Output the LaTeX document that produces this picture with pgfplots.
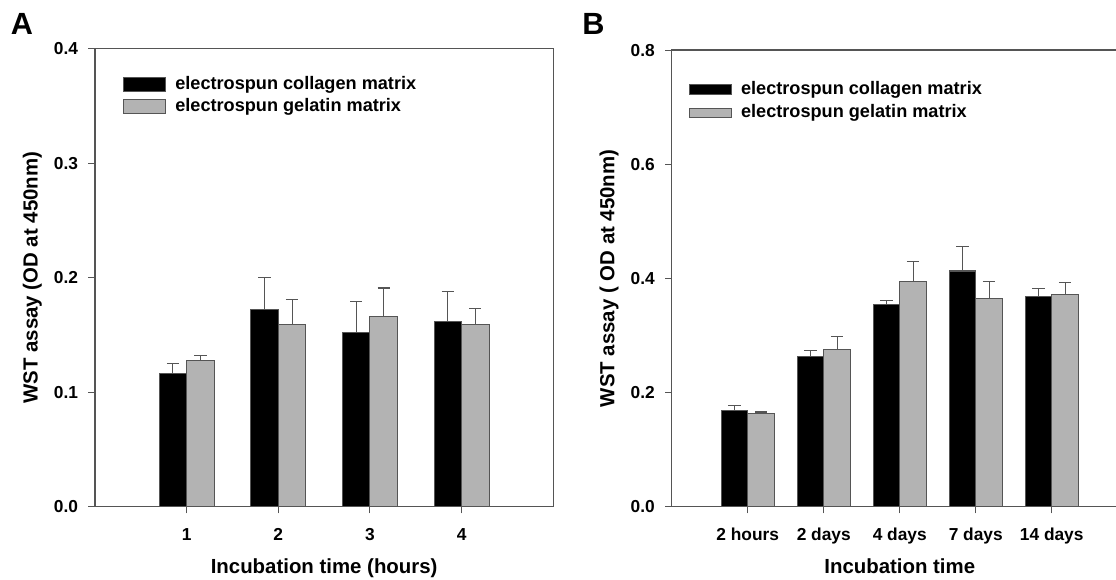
\documentclass[border=0pt]{standalone}
\usepackage{pgfplots}
\pgfplotsset{compat=1.18}
\usepackage{pgfplotstable}
\usepackage{fontspec}
\setmainfont{Liberation Sans}
\definecolor{axisgray}{HTML}{555555}
\definecolor{bargray}{HTML}{B3B3B3}

\pgfplotstableread{
x colla errcolla gela errgela
1 0.116 0.009 0.128 0.004
2 0.172 0.028 0.159 0.022
3 0.152 0.027 0.166 0.025
4 0.162 0.026 0.159 0.014
}\dataA

\pgfplotstableread{
x collb errcollb gelb errgelb
1 0.169 0.009 0.164 0.002
2 0.263 0.010 0.276 0.023
3 0.355 0.007 0.394 0.035
4 0.413 0.043 0.365 0.029
5 0.368 0.015 0.371 0.022
}\dataB

\pgfplotsset{
  common/.style={
    scale only axis,
    anchor=south west,
    axis line style={axisgray, line width=1pt},
    tick style={axisgray, line width=0.8pt},
    tick align=outside,
    major tick length=5pt,
    xtick pos=bottom,
    ytick pos=left,
    ybar,
    ymin=0,
    xmin=0,
    tick label style={font=\fontsize{13}{13}\selectfont\bfseries},
    /pgf/number format/.cd, fixed, fixed zerofill, precision=1, assume math mode=true, /pgfplots/.cd,
    yticklabel style={anchor=east, inner sep=0pt, xshift=-7.5pt},
    xticklabel style={anchor=north, inner sep=0pt, yshift=-11pt},
    every axis x label/.style={at={(axis description cs:0.5,0)}, anchor=base, yshift=-49.7pt,
      font=\fontsize{15.3}{16}\selectfont\bfseries},
    every axis y label/.style={at={(axis description cs:0,0.5)}, xshift=-43pt, rotate=90, anchor=base,
      font=\fontsize{15.3}{16}\selectfont\bfseries},
    legend cell align=left,
    legend style={draw=none, fill=none, inner sep=0pt, anchor=north west,
      font=\fontsize{13.6}{14}\selectfont\bfseries,
      nodes={inner sep=0pt, text height=9.5pt, text depth=3pt}, column sep=6.75pt},
    error bars/y dir=plus,
    error bars/y explicit,
    error bars/error mark=-,
    error bars/error bar style={axisgray, line width=0.8pt},
    error bars/error mark options={axisgray, line width=0.8pt, mark size=4.6pt, rotate=90},
  }
}

\begin{document}
\begin{tikzpicture}
\useasboundingbox (0,0) rectangle (837pt,434.25pt);
\clip (0,0) rectangle (837pt,434.25pt);

\node[anchor=base west, inner sep=0pt, font=\fontsize{23}{23}\selectfont\bfseries] at (8pt,408pt) {A};
\node[anchor=base west, inner sep=0pt, font=\fontsize{23}{23}\selectfont\bfseries] at (436.5pt,408pt) {B};

\begin{axis}[common,
  at={(71.25pt,54.2pt)},
  width=343.7pt, height=343.6pt,
  xmax=5, ymax=0.4,
  bar width=0.3,
  xtick={1,2,3,4}, xticklabels={1,2,3,4},
  ytick={0,0.1,0.2,0.3,0.4},
  xlabel={Incubation time (hours)},
  ylabel={WST assay (OD at 450nm)},
  legend style={at={(axis description cs:0.060,0.939)}, row sep=4.2pt},
  legend image code/.code={\draw[#1, draw=axisgray, line width=0.8pt] (0pt,-4.9pt) rectangle (31.9pt,5.6pt);},
]
\addplot[fill=black, draw=axisgray, line width=0.8pt, bar shift=-0.15]
  table[x=x, y=colla, y error=errcolla] {\dataA};
\addplot[fill=bargray, draw=axisgray, line width=0.8pt, bar shift=0.15]
  table[x=x, y=gela, y error=errgela] {\dataA};
\legend{electrospun collagen matrix, electrospun gelatin matrix}
\end{axis}

\begin{axis}[common,
  at={(503.8pt,54.2pt)},
  width=342pt, height=342.5pt,
  xmax=6, ymax=0.8,
  bar width=0.35,
  xtick={1,2,3,4,5}, xticklabels={2 hours,2 days,4 days,7 days,14 days},
  ytick={0,0.2,0.4,0.6,0.8},
  xlabel={Incubation time},
  ylabel={WST assay ( OD at 450nm)},
  legend style={at={(axis description cs:0.0373,0.932)}, row sep=5pt},
  legend image code/.code={\draw[#1, draw=axisgray, line width=0.8pt] (0pt,-3.6pt) rectangle (31.5pt,3.6pt);},
]
\addplot[fill=black, draw=axisgray, line width=0.8pt, bar shift=-0.175]
  table[x=x, y=collb, y error=errcollb] {\dataB};
\addplot[fill=bargray, draw=axisgray, line width=0.8pt, bar shift=0.175]
  table[x=x, y=gelb, y error=errgelb] {\dataB};
\legend{electrospun collagen matrix, electrospun gelatin matrix}
\end{axis}
\end{tikzpicture}
\end{document}
